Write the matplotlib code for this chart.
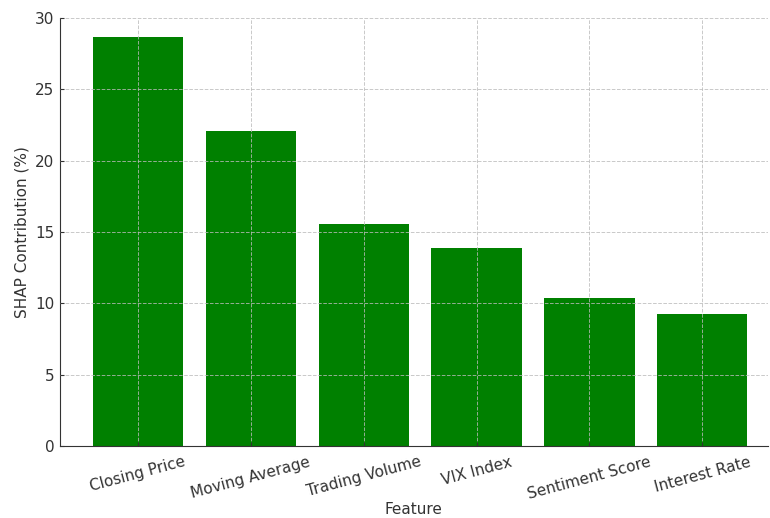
import matplotlib.pyplot as plt

features = ["Closing Price", "Moving Average", "Trading Volume",
            "VIX Index", "Sentiment Score", "Interest Rate"]
shap_pct = [28.7, 22.1, 15.6, 13.9, 10.4, 9.25]

fig = plt.figure(figsize=(7.7, 5.18), dpi=100)
ax = fig.add_axes([0.078, 0.139, 0.919, 0.826])

ax.bar(features, shap_pct, color="green", width=0.8)

ax.set_xlim(-0.69, 5.58)
ax.set_ylim(0, 30)
ax.set_xlabel("Feature", fontsize=11, color="#333333", labelpad=0.5)
ax.set_ylabel("SHAP Contribution (%)", fontsize=11, color="#333333")
ax.tick_params(axis="both", labelsize=11, colors="#333333",
               direction="in", length=3)
ax.tick_params(axis="y", pad=4)
ax.tick_params(axis="x", pad=6)
plt.setp(ax.get_xticklabels(), rotation=15, ha="center")

# dashed grid sits on top of the bars
ax.set_axisbelow(False)
ax.grid(True, linestyle="--", color="#bbbbbb", linewidth=0.7, alpha=0.8)

for side in ["top", "right"]:
    ax.spines[side].set_visible(False)
for side in ["left", "bottom"]:
    ax.spines[side].set_color("#333333")

fig.savefig("out.png", dpi=100)
